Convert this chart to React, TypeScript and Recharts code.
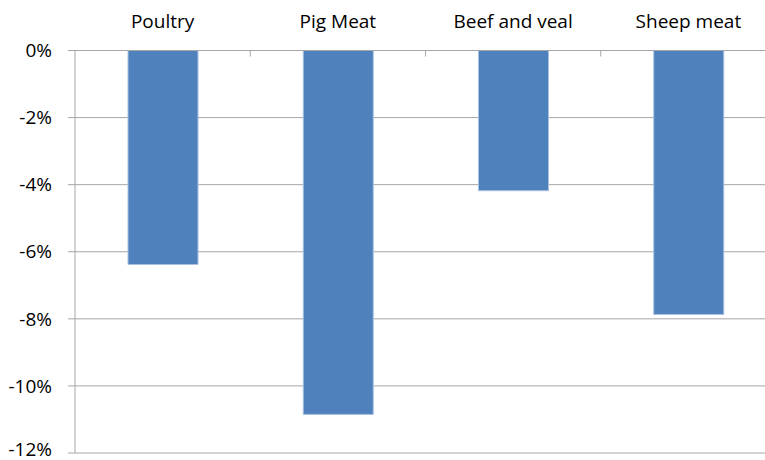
import React from 'react';
import { Bar, BarChart, CartesianGrid, XAxis, YAxis } from 'recharts';

// Change in meat production by type, percent
const meatTypes = ['Poultry', 'Pig Meat', 'Beef and veal', 'Sheep meat'];
const changePct = [-6.38, -10.85, -4.18, -7.87];
const yTicks = [0, -2, -4, -6, -8, -10, -12];

const chartData = meatTypes.map((type, i) => ({ type, change: changePct[i] }));

const GREY = '#a6a6a6';
const FONT = '"Open Sans", Lato, sans-serif';
const FONT_SIZE = 19;
const LABEL_GAP = 23;

// Category label above the axis, plus a short divider tick between categories
const CategoryTick = (props: any) => {
  const { x, y, payload, index } = props;
  const axisY = y + LABEL_GAP;
  const half = payload?.offset ?? 0;
  return (
    <g>
      <text
        x={x}
        y={y}
        textAnchor="middle"
        fill="#000"
        fontSize={FONT_SIZE}
        fontFamily={FONT}
      >
        {payload.value}
      </text>
      {index > 0 && (
        <line x1={x - half} x2={x - half} y1={axisY} y2={axisY + 6} stroke={GREY} />
      )}
    </g>
  );
};

const App = () => {
  return (
    <div
      style={{
        position: 'absolute',
        left: 0,
        top: 0,
        width: 765,
        height: 460,
        overflow: 'hidden',
        background: '#fff',
      }}
    >
      <BarChart
        width={800}
        height={460}
        data={chartData}
        margin={{ top: 0, right: 24, bottom: 7, left: 0 }}
      >
        <CartesianGrid vertical={false} stroke={GREY} />
        <XAxis
          dataKey="type"
          orientation="top"
          height={50.5}
          tickSize={0}
          tickMargin={LABEL_GAP}
          axisLine={{ stroke: GREY }}
          tick={<CategoryTick />}
          interval={0}
        />
        <YAxis
          type="number"
          domain={[-12, 0]}
          ticks={yTicks}
          width={75}
          tickSize={7}
          tickMargin={16}
          axisLine={{ stroke: GREY }}
          tickLine={{ stroke: GREY }}
          tick={{ fill: '#000', fontSize: FONT_SIZE, fontFamily: FONT }}
          tickFormatter={(v: number) => `${v}%`}
        />
        <Bar
          dataKey="change"
          fill="#4f81bd"
          stroke="#a9c1e0"
          strokeWidth={1}
          barSize={70}
          isAnimationActive={false}
        />
      </BarChart>
    </div>
  );
};

export default App;
